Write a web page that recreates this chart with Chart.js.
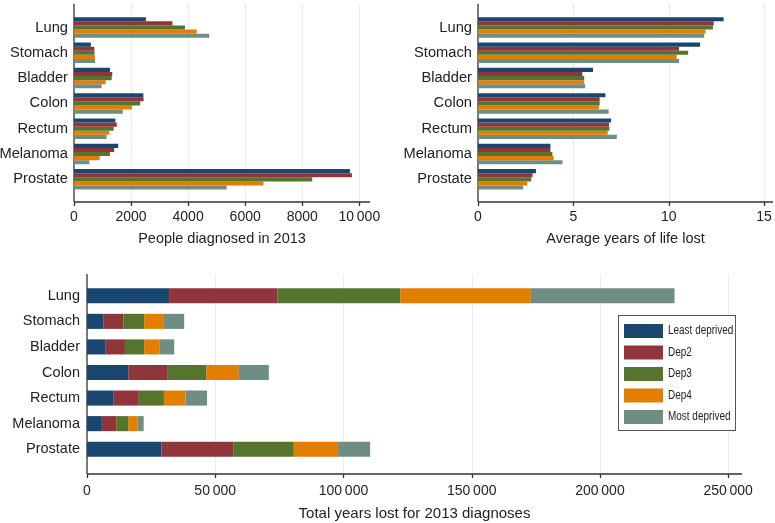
<!DOCTYPE html>
<html>
<head>
<meta charset="utf-8">
<script src="https://cdn.jsdelivr.net/npm/chart.js@4.4.1/dist/chart.umd.min.js"></script>
<style>
  body { margin: 0; background: #fff; }
  .panel { position: absolute; }
</style>
</head>
<body>
<div class="panel" style="left:0;top:0;width:385px;height:250px"><canvas id="diagChart"></canvas></div>
<div class="panel" style="left:385px;top:0;width:390px;height:250px"><canvas id="yllChart"></canvas></div>
<div class="panel" style="left:0;top:262px;width:775px;height:261px"><canvas id="totalChart"></canvas></div>
<script>
// categories and groups
const cancers = ['Lung', 'Stomach', 'Bladder', 'Colon', 'Rectum', 'Melanoma', 'Prostate'];
const groups = ['Least deprived', 'Dep2', 'Dep3', 'Dep4', 'Most deprived'];
const colours = ['#1a476f', '#90353b', '#55752f', '#e37e00', '#6e8e84'];

// people diagnosed in 2013
const diagLeast = [2520, 590, 1260, 2430, 1450, 1550, 9670];
const diagDep2  = [3450, 710, 1340, 2440, 1500, 1410, 9740];
const diagDep3  = [3890, 720, 1320, 2320, 1390, 1260, 8350];
const diagDep4  = [4300, 730, 1110, 2030, 1240, 900, 6640];
const diagMost  = [4740, 740, 970, 1710, 1140, 540, 5350];

// average years of life lost
const yllLeast = [12.88, 11.65, 6.03, 6.68, 6.98, 3.80, 3.04];
const yllDep2  = [12.36, 10.54, 5.47, 6.38, 6.87, 3.80, 2.86];
const yllDep3  = [12.32, 11.02, 5.57, 6.38, 6.89, 3.90, 2.79];
const yllDep4  = [11.93, 10.42, 5.57, 6.34, 6.80, 3.97, 2.58];
const yllMost  = [11.86, 10.54, 5.62, 6.85, 7.28, 4.43, 2.37];

// total years lost for 2013 diagnoses
const totLeast = [32000, 6500, 7300, 16100, 10400, 5800, 29000];
const totDep2  = [42200, 7700, 7500, 15400, 9800, 5600, 28000];
const totDep3  = [48000, 8100, 7500, 15000, 9800, 4800, 23600];
const totDep4  = [50900, 7700, 6100, 12700, 8400, 3600, 17300];
const totMost  = [56000, 7900, 5600, 11700, 8400, 2300, 12500];

// tick labels
const diagTicks = [0, 2000, 4000, 6000, 8000, 10000];
const yllTicks = [0, 5, 10, 15];
const totTicks = [0, 50000, 100000, 150000, 200000, 250000];

Chart.defaults.font.family = "'Liberation Sans', Arial, sans-serif";
Chart.defaults.color = '#222';

function fmt(v) {
  if (v < 10000) return String(v);
  return String(v).replace(/\B(?=(\d{3})+(?!\d))/g, '\u2009');
}

// stata style axes: light grid, axis lines running past the bars, small tick marks
const stataFrame = {
  id: 'stataFrame',
  beforeDatasetsDraw(chart, args, opts) {
    const { ctx, chartArea: a, scales: { x } } = chart;
    const top = a.top - opts.extTop;
    const bottom = a.bottom + opts.extBottom;
    ctx.save();
    ctx.strokeStyle = '#ececec';
    ctx.lineWidth = 1;
    x.ticks.forEach(t => {
      if (t.value === 0) return;
      const px = Math.round(x.getPixelForValue(t.value)) + 0.5;
      ctx.beginPath(); ctx.moveTo(px, top); ctx.lineTo(px, bottom); ctx.stroke();
    });
    ctx.strokeStyle = '#333';
    ctx.lineWidth = 1.3;
    ctx.beginPath();
    ctx.moveTo(a.left, top); ctx.lineTo(a.left, bottom);
    ctx.moveTo(a.left, bottom); ctx.lineTo(a.right, bottom);
    x.ticks.forEach(t => {
      const px = Math.round(x.getPixelForValue(t.value)) + 0.5;
      ctx.moveTo(px, bottom); ctx.lineTo(px, bottom + 4);
    });
    ctx.stroke();
    ctx.restore();
  }
};

// legend in a box inside the plot
const boxLegend = {
  id: 'boxLegend',
  afterDraw(chart, args, opts) {
    if (!opts.show) return;
    const { ctx } = chart;
    ctx.save();
    ctx.fillStyle = '#fff';
    ctx.fillRect(opts.x, opts.y, opts.w, opts.h);
    ctx.strokeStyle = '#555';
    ctx.lineWidth = 1;
    ctx.strokeRect(opts.x + 0.5, opts.y + 0.5, opts.w, opts.h);
    ctx.font = "12px 'Liberation Sans', Arial, sans-serif";
    ctx.textBaseline = 'middle';
    chart.data.datasets.forEach((ds, i) => {
      const cy = opts.y + opts.firstRow + i * opts.rowH;
      ctx.fillStyle = ds.backgroundColor;
      ctx.fillRect(opts.x + 6, cy - 7, 39, 14);
      // condensed text like the original
      ctx.save();
      ctx.translate(opts.x + 50, cy);
      ctx.scale(0.83, 1);
      ctx.fillStyle = '#222';
      ctx.fillText(ds.label, 0, 0);
      ctx.restore();
    });
    ctx.restore();
  }
};

function makeChart(id, series, cfg) {
  const ctx = document.getElementById(id).getContext('2d');
  return new Chart(ctx, {
    type: 'bar',
    data: {
      labels: cancers,
      datasets: series.map((vals, i) => ({
        label: groups[i],
        data: vals,
        backgroundColor: colours[i],
        borderWidth: 0,
        barPercentage: cfg.barPct,
        categoryPercentage: cfg.catPct
      }))
    },
    options: {
      indexAxis: 'y',
      responsive: true,
      maintainAspectRatio: false,
      animation: false,
      devicePixelRatio: 1,
      layout: { padding: { left: 0, right: cfg.padRight, top: cfg.areaTop, bottom: 0 } },
      plugins: {
        legend: { display: false },
        tooltip: { enabled: false },
        stataFrame: { extTop: cfg.extTop, extBottom: cfg.extBottom },
        boxLegend: cfg.legend || { show: false }
      },
      scales: {
        x: {
          stacked: !!cfg.stacked,
          min: 0,
          max: cfg.max,
          grid: { display: false, drawTicks: true, tickLength: cfg.tickPad },
          border: { display: false },
          afterBuildTicks: s => { s.ticks = cfg.ticks.map(v => ({ value: v })); },
          afterFit: s => { s.height = cfg.xHeight; },
          ticks: {
            autoSkip: false,
            maxRotation: 0,
            padding: 0,
            font: { size: 14 },
            callback: v => fmt(v)
          },
          title: {
            display: true,
            text: cfg.title,
            font: { size: cfg.titleSize },
            padding: { top: 0, bottom: cfg.titlePad }
          }
        },
        y: {
          stacked: !!cfg.stacked,
          grid: { display: false, drawTicks: false },
          border: { display: false },
          afterFit: s => { s.width = cfg.yWidth; },
          ticks: { padding: cfg.yPad, font: { size: cfg.catSize } }
        }
      }
    },
    plugins: [stataFrame, boxLegend]
  });
}

makeChart('diagChart', [diagLeast, diagDep2, diagDep3, diagDep4, diagMost], {
  title: 'People diagnosed in 2013',
  ticks: diagTicks, max: 10375,
  yWidth: 74, padRight: 15, areaTop: 11, xHeight: 58,
  extTop: 11, extBottom: 10, tickPad: 17, titlePad: 2, yPad: 6,
  titleSize: 14.5, catSize: 14.7,
  barPct: 1, catPct: 0.81
});

makeChart('yllChart', [yllLeast, yllDep2, yllDep3, yllDep4, yllMost], {
  title: 'Average years of life lost',
  ticks: yllTicks, max: 15.47,
  yWidth: 93, padRight: 2, areaTop: 11, xHeight: 58,
  extTop: 11, extBottom: 10, tickPad: 17, titlePad: 2, yPad: 6,
  titleSize: 14.5, catSize: 14.7,
  barPct: 1, catPct: 0.81
});

makeChart('totalChart', [totLeast, totDep2, totDep3, totDep4, totMost], {
  title: 'Total years lost for 2013 diagnoses',
  ticks: totTicks, max: 255400, stacked: true,
  yWidth: 87, padRight: 33, areaTop: 21, xHeight: 61,
  extTop: 9, extBottom: 12, tickPad: 21, titlePad: 0, yPad: 7,
  titleSize: 15, catSize: 14.5,
  barPct: 0.59, catPct: 1,
  legend: { show: true, x: 618, y: 53, w: 117, h: 115, firstRow: 16, rowH: 21.5 }
});
</script>
</body>
</html>
